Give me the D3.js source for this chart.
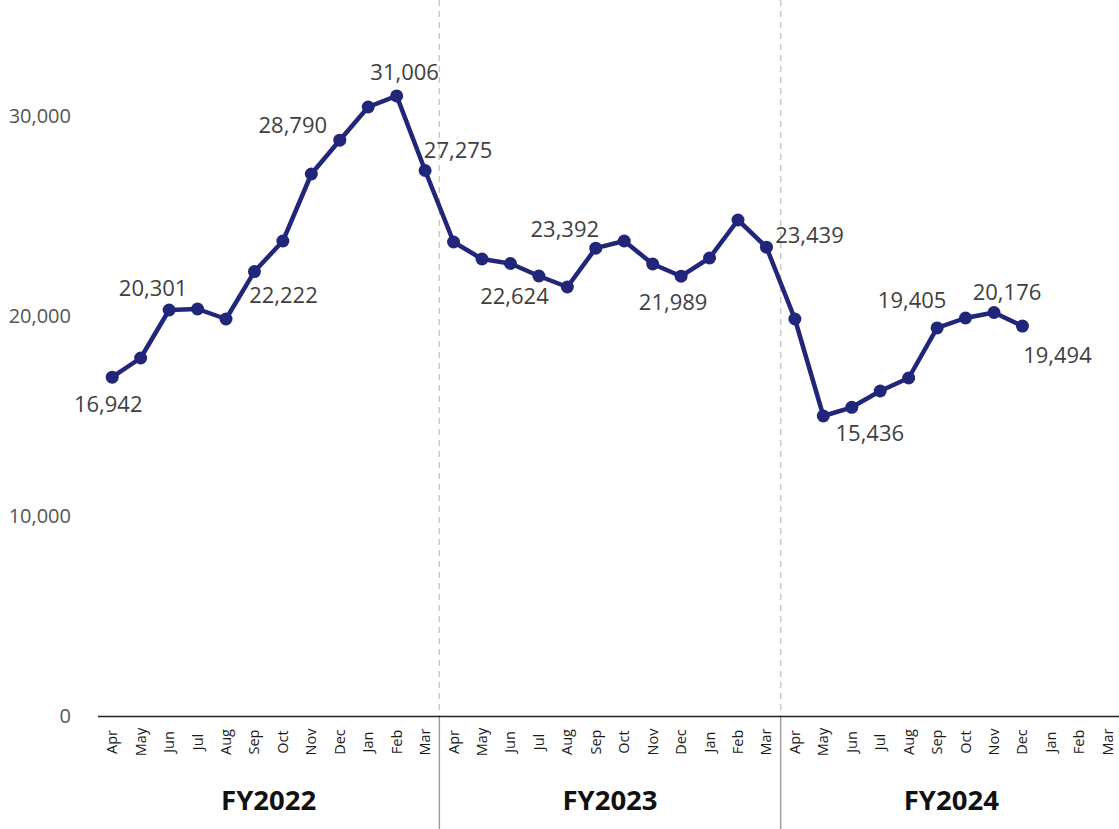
<!DOCTYPE html>
<html><head><meta charset="utf-8">
<script src="https://cdn.jsdelivr.net/npm/d3@7"></script>
<style>body{margin:0;background:#fff}svg{display:block}</style>
</head><body>
<script>
const months = ["Apr","May","Jun","Jul","Aug","Sep","Oct","Nov","Dec","Jan","Feb","Mar"];
const years = ["FY2022","FY2023","FY2024"];
const values = [
  16942, 17900, 20301, 20350, 19850, 22222, 23750, 27100, 28790, 30450, 31006, 27275,
  23700, 22850, 22624, 22000, 21450, 23392, 23750, 22600, 21989, 22900, 24800, 23439,
  19850, 15000, 15436, 16250, 16900, 19405, 19900, 20176, 19494
];
const yTicks = [0, 10000, 20000, 30000];
// labelled points: index into values, with label offset
const labelIdx = [0, 2, 5, 8, 10, 11, 14, 17, 20, 23, 26, 29, 31, 32];
const labelDx = [-4, -16, 29, -47, 8, 33, 4, -31, -8, 43, 18, -25, 13, 35];
const labelDy = [27, -22, 24, -15, -24, -20, 33, -19, 26, -12, 26, -28, -20, 29];

const W = 1119, H = 829;
const svg = d3.select("body").append("svg").attr("width", W).attr("height", H);
const keys = [];
years.forEach(y => months.forEach(m => keys.push(y + "-" + m)));
const x = d3.scaleBand().domain(keys).range([98, 1122]);
const y = d3.scaleLinear().domain([0, 30000]).range([716, 116]);
const font = "'Open Sans', 'Noto Sans', sans-serif";

// separators
[1, 2].forEach(i => {
  const xs = x(keys[i * 12]);
  svg.append("line").attr("x1", xs).attr("x2", xs).attr("y1", 0).attr("y2", 716)
    .attr("stroke", "#c8c8c8").attr("stroke-width", 1.5).attr("stroke-dasharray", "6,5");
  svg.append("line").attr("x1", xs).attr("x2", xs).attr("y1", 716).attr("y2", H)
    .attr("stroke", "#a0a0a0").attr("stroke-width", 1.5);
});

// x axis line
svg.append("line").attr("x1", 98).attr("x2", W).attr("y1", 716.5).attr("y2", 716.5)
  .attr("stroke", "#222").attr("stroke-width", 1.5);

// month labels
svg.append("g").selectAll("text").data(keys).join("text")
  .attr("transform", d => `translate(${x(d) + x.bandwidth() / 2 + 5},742) rotate(-90)`)
  .attr("text-anchor", "middle").attr("font-family", font).attr("font-size", 14.5)
  .attr("fill", "#1a1a1a").text(d => d.split("-")[1]);

// year labels
years.forEach((yr, i) => {
  const x0 = x(keys[i * 12]), x1 = x(keys[i * 12 + 11]) + x.bandwidth();
  svg.append("text").attr("x", (x0 + x1) / 2).attr("y", 810)
    .attr("text-anchor", "middle").attr("font-family", font).attr("font-weight", "bold")
    .attr("font-size", 27.5).attr("fill", "#111").text(yr);
});

// y ticks
const yAxis = d3.axisLeft(y).tickValues(yTicks).tickSize(0).tickPadding(0).tickFormat(d3.format(","));
const gy = svg.append("g").attr("transform", "translate(71,0)").call(yAxis);
gy.select(".domain").remove();
gy.selectAll("text").attr("font-family", font).attr("font-size", 20).attr("fill", "#555");

// line
const cx = i => x(keys[i]) + x.bandwidth() / 2;
const line = d3.line().x((d, i) => cx(i)).y(d => y(d));
svg.append("path").datum(values).attr("d", line).attr("fill", "none")
  .attr("stroke", "#21267a").attr("stroke-width", 4.5).attr("stroke-linejoin", "round");
svg.append("g").selectAll("circle").data(values).join("circle")
  .attr("cx", (d, i) => cx(i)).attr("cy", d => y(d)).attr("r", 6.5).attr("fill", "#21267a");

// data labels
svg.append("g").selectAll("text").data(labelIdx).join("text")
  .attr("x", (d, k) => cx(d) + labelDx[k]).attr("y", (d, k) => y(values[d]) + labelDy[k])
  .attr("dy", "0.35em").attr("text-anchor", "middle").attr("font-family", font)
  .attr("font-size", 22).attr("fill", "#404040").text(d => d3.format(",")(values[d]));
</script>
</body></html>
